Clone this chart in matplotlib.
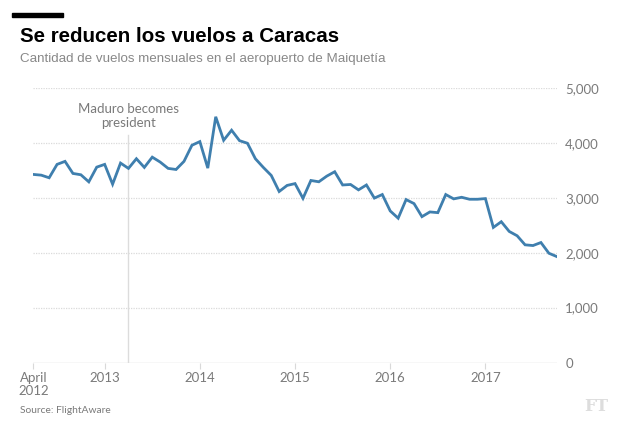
import numpy as np
import matplotlib.pyplot as plt

# monthly flights, April 2012 .. October 2017
flights = [3425, 3412, 3364, 3608, 3663, 3443, 3419, 3290, 3558, 3608,
           3247, 3632, 3535, 3711, 3553, 3740, 3650, 3535, 3515, 3663,
           3956, 4023, 3540, 4475, 4047, 4230, 4040, 3993, 3711, 3553,
           3407, 3114, 3225, 3258, 2990, 3315, 3291, 3394, 3474, 3233,
           3242, 3144, 3233, 2994, 3059, 2760, 2628, 2967, 2894, 2656,
           2742, 2729, 3059, 2980, 3009, 2973, 2973, 2985, 2460, 2564,
           2387, 2308, 2143, 2130, 2185, 1990, 1929]
months = np.arange(len(flights))

xtick_pos = [0, 9, 21, 33, 45, 57]
xtick_labels = ['April\n2012', '2013', '2014', '2015', '2016', '2017']
ytick_pos = [0, 1000, 2000, 3000, 4000, 5000]
ytick_labels = ['0', '1,000', '2,000', '3,000', '4,000', '5,000']
maduro_month = 12

grey = '#7a7a7a'
fig = plt.figure(figsize=(6.4, 4.29), dpi=100)
ax = fig.add_axes([0.052, 0.155, 0.818, 0.640])

ax.plot(months, flights, color='#3f7fae', lw=2, solid_joinstyle='miter', zorder=3)

for y in ytick_pos[1:]:
    ax.axhline(y, color='#dadada', lw=0.9, ls=(0, (1, 1)), zorder=1)
ax.axhline(0, color='#d9d9d9', lw=1, zorder=1)
ax.plot([maduro_month, maduro_month], [0, 4140], color='#dcdcdc', lw=1, zorder=2)
ax.text(maduro_month, 4250, 'Maduro becomes\npresident', ha='center', va='bottom',
        fontsize=9.5, color=grey, family='Lato', linespacing=1.2)

ax.set_xlim(0, 66)
ax.set_ylim(0, 5000)
for s in ax.spines.values():
    s.set_visible(False)
ax.set_xticks(xtick_pos)
ax.set_xticklabels(xtick_labels, fontsize=9.5, color=grey, family='Lato',
                   linespacing=1.1)
ax.tick_params(axis='x', length=4, color='#d9d9d9', pad=3)
ax.set_yticks(ytick_pos)
ax.set_yticklabels(ytick_labels, fontsize=9.5, color=grey, family='Lato')
ax.yaxis.tick_right()
ax.tick_params(axis='y', length=0, pad=6)

fig.patches.append(plt.Rectangle((12 / 640, 1 - 16.5 / 429), 51 / 640, 3.5 / 429,
                                 transform=fig.transFigure, color='black'))
fig.text(20 / 640, 1 - 42 / 429, 'Se reducen los vuelos a Caracas', fontsize=14.8,
         fontweight='bold', family='Liberation Sans', color='black')
fig.text(20 / 640, 1 - 62 / 429, 'Cantidad de vuelos mensuales en el aeropuerto de Maiquetía',
         fontsize=9.6, family='Liberation Sans', color='#888888')
fig.text(20 / 640, 1 - 413 / 429, 'Source: FlightAware', fontsize=7.4, family='Lato',
         color=grey)
fig.text(584 / 640, 1 - 411 / 429, 'FT', fontsize=12, family='DejaVu Serif',
         fontweight='bold', color='#dddddd')

fig.savefig('out.png', dpi=100)
